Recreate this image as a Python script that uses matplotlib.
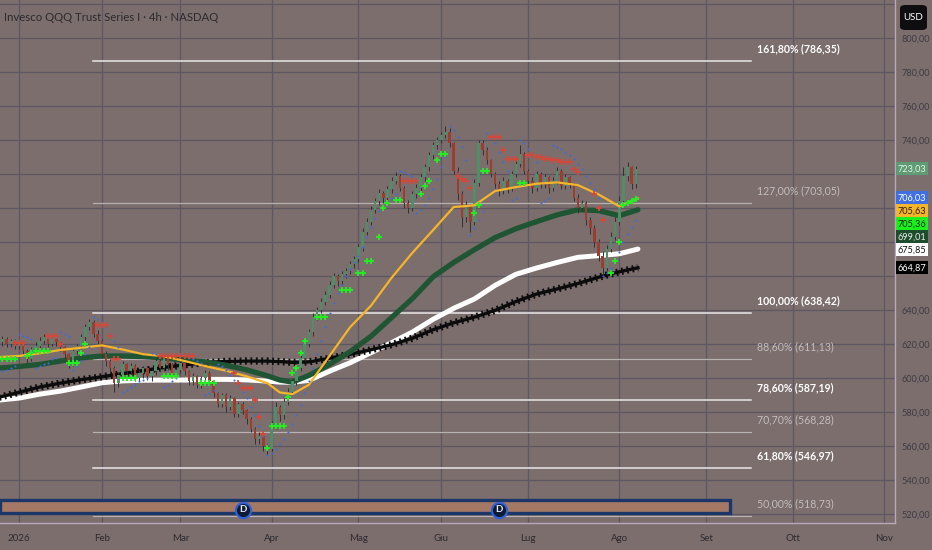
import matplotlib
matplotlib.use("Agg")
import matplotlib.pyplot as plt
from matplotlib.patches import Rectangle, FancyBboxPatch
from matplotlib.ticker import FuncFormatter, FixedLocator

plt.rcParams['font.family'] = ['Lato', 'DejaVu Sans']

title = "Invesco QQQ Trust Series I · 4h · NASDAQ"

# daily candles, x = trading day index (0 = first session of 2026)
first_day = -5
opens = [619, 621, 623, 620, 622,
         619, 620, 616, 611, 617, 619, 622, 624, 620, 623,
         621, 618, 614, 608, 616, 619, 624, 630, 633, 626,
         622, 614, 610, 606, 597, 602, 608, 604, 607, 600,
         603, 606, 601, 604, 610, 606, 611, 608, 602, 605,
         609, 604, 598, 601, 596, 600, 603, 598, 591, 585,
         590, 583, 588, 579, 585, 581, 576, 570, 564, 566,
         560, 558, 572, 583, 578, 586, 592, 598, 606, 612,
         620, 627, 636, 640, 645, 649, 655, 660, 657, 661,
         663, 667, 670, 677, 686, 692, 699, 704, 709, 706,
         711, 716, 719, 712, 703, 700, 708, 712, 718, 724,
         731, 737, 740, 743, 745, 738, 722, 708, 695, 701,
         692, 715, 738, 734, 728, 720, 714, 710, 716, 712,
         720, 726, 732, 722, 716, 712, 720, 714, 718, 712,
         716, 722, 713, 718, 714, 706, 700, 703, 693, 688,
         680, 672, 665, 676, 683, 692, 704, 719, 724, 714]
highs = [623, 625, 624, 623, 623,
         622, 621, 617, 618, 621, 624, 626, 625, 624, 624,
         622, 619, 615, 617, 620, 626, 632, 635, 634, 628,
         623, 616, 611, 607, 603, 610, 609, 609, 608, 605,
         607, 607, 605, 612, 611, 612, 612, 609, 606, 611,
         610, 605, 603, 602, 601, 605, 604, 599, 592, 591,
         591, 590, 589, 586, 586, 582, 577, 571, 568, 567,
         561, 575, 586, 584, 588, 594, 600, 608, 614, 622,
         629, 638, 642, 647, 651, 657, 662, 661, 663, 665,
         669, 672, 679, 688, 694, 701, 706, 711, 710, 713,
         718, 721, 720, 713, 705, 710, 714, 720, 726, 733,
         739, 742, 745, 748, 747, 739, 724, 710, 704, 702,
         717, 740, 740, 736, 729, 721, 716, 718, 717, 722,
         728, 737, 733, 723, 718, 722, 721, 720, 719, 718,
         724, 723, 720, 719, 715, 708, 705, 704, 695, 690,
         682, 675, 678, 686, 695, 707, 724, 727, 725, 725]
lows = [617, 619, 618, 618, 617,
        617, 614, 609, 610, 615, 617, 620, 618, 619, 619,
        616, 612, 606, 607, 614, 617, 622, 628, 624, 620,
        612, 607, 603, 592, 595, 600, 602, 602, 598, 598,
        600, 599, 598, 602, 604, 604, 605, 600, 600, 603,
        602, 596, 596, 594, 594, 598, 596, 589, 583, 583,
        580, 581, 577, 577, 579, 573, 568, 561, 561, 557,
        555, 557, 570, 575, 576, 584, 590, 596, 604, 610,
        618, 625, 634, 638, 643, 647, 653, 654, 655, 659,
        661, 665, 668, 675, 684, 690, 697, 702, 703, 704,
        709, 714, 710, 700, 697, 698, 706, 710, 716, 722,
        729, 735, 738, 741, 736, 720, 705, 689, 692, 686,
        690, 713, 731, 726, 718, 712, 707, 708, 709, 710,
        718, 724, 720, 713, 709, 710, 712, 712, 709, 710,
        714, 711, 711, 712, 704, 697, 698, 690, 685, 677,
        669, 661, 663, 674, 681, 690, 702, 716, 711, 712]
closes = [621, 623, 620, 622, 619,
          620, 616, 611, 617, 619, 622, 624, 620, 623, 621,
          618, 614, 608, 616, 619, 624, 630, 633, 626, 622,
          614, 610, 606, 597, 602, 608, 604, 607, 600, 603,
          606, 601, 604, 610, 606, 611, 608, 602, 605, 609,
          604, 598, 601, 596, 600, 603, 598, 591, 585, 590,
          583, 588, 579, 585, 581, 576, 570, 564, 566, 560,
          558, 572, 583, 578, 586, 592, 598, 606, 612, 620,
          627, 636, 640, 645, 649, 655, 660, 657, 661, 663,
          667, 670, 677, 686, 692, 699, 704, 709, 706, 711,
          716, 719, 712, 703, 700, 708, 712, 718, 724, 731,
          737, 740, 743, 745, 738, 722, 708, 695, 701, 692,
          715, 738, 734, 728, 720, 714, 710, 716, 712, 720,
          726, 732, 722, 716, 712, 720, 714, 718, 712, 716,
          722, 713, 718, 714, 706, 700, 703, 693, 688, 680,
          672, 665, 676, 683, 692, 704, 719, 724, 714, 723.03]

# parabolic-SAR style dots, one per candle
sar = [603, 604, 605, 606, 607,
       626, 625, 624, 623,
       606, 607, 608, 609, 611, 612,
       627, 626, 625,
       605, 607, 610, 614, 618,
       636, 635, 633, 630, 626, 622, 618,
       592, 593, 595, 596, 598, 599, 600,
       615, 614, 613,
       595, 596, 598, 600,
       614, 613, 612, 611, 610, 609,
       590, 591, 593,
       608, 607, 605, 602, 599, 596, 592, 588, 583, 578, 572, 566,
       555, 556, 558, 561, 564, 568, 573, 578, 584, 591, 598,
       606, 614, 622, 630, 638, 644, 650, 655, 660, 664, 668,
       672, 677, 683, 689, 694, 698, 701, 704, 706, 708,
       722, 721, 720, 719,
       697, 699, 702, 706, 711, 717, 724, 730,
       748, 746, 742, 736, 728,
       684, 688, 693, 698,
       744, 742, 738, 733, 727, 722,
       705, 706,
       740, 738, 735, 731, 727,
       703, 704, 706,
       737, 736, 735, 733, 731, 729, 726, 723, 719, 715, 711, 706,
       660, 662, 665, 669, 674, 680, 685, 689, 693]

# trailing stop crosses
stop_up_days = [-5, -4, -3, -2, -1, 2, 3, 4, 5, 6, 7, 12, 13, 14, 15, 16,
                25, 26, 27, 28, 35, 36, 37, 38, 44, 45, 46, 47, 60, 61, 62, 63, 64,
                65, 66, 67, 68, 69, 72, 73, 74, 78, 79, 80, 82, 83, 84, 85, 87,
                88, 89, 91, 92, 97, 98, 99, 101, 102, 103, 110, 111, 112, 113,
                121, 122, 143, 144, 145, 146, 147, 148, 149]
stop_up_vals = [611, 611, 611, 611, 611, 613, 615, 616, 616, 616, 616, 609, 609, 609, 615, 620,
                600, 600, 600, 600, 601, 601, 601, 601, 597, 597, 597, 597, 559, 572, 572, 572, 572,
                589, 603, 606, 615, 622, 636, 636, 636, 652, 652, 652, 662, 662, 669, 669, 683,
                700, 703, 705, 705, 708, 713, 716, 728, 732, 732, 697, 702, 722, 722,
                715, 715, 662, 669, 680, 702, 703, 704, 705.36]
stop_dn_days = [-1, 0, 1, 7, 8, 9, 10, 19, 20, 21, 22, 23, 24,
                34, 35, 36, 37, 38, 39, 40, 41, 42, 52, 53, 54, 55, 56, 57, 58, 59,
                93, 94, 95, 96, 106, 107, 108, 109, 114, 115, 116, 117, 118, 119, 120,
                123, 124, 125, 126, 127, 128, 129, 130, 131, 132, 133, 134, 135,
                139, 140, 141]
stop_dn_vals = [620.6, 620.6, 620.6, 625, 625, 625, 620, 631, 631, 631, 625, 611, 611,
                613, 613, 613, 613, 613, 613, 613, 613, 613, 603, 597, 594, 594, 594, 587, 577, 567,
                716, 716, 716, 716, 719, 717, 716, 712, 742, 742, 742, 734, 729, 729, 729,
                731, 731, 730, 730, 729, 729, 728, 728, 727, 727, 727, 723, 721,
                708, 700, 693]

# moving averages read at sample days
ma_days = [-5, 0, 5, 10, 15, 20, 25, 30, 35, 40, 45, 50, 55, 60, 63, 66, 70,
           75, 80, 85, 90, 95, 100, 105, 110, 115, 120, 125, 130, 135, 140, 145, 149.5]
ma_yellow = [612.3, 613, 614.5, 616.5, 617.8, 619.2, 616.8, 614, 612.8, 610, 607, 604.3,
             601, 597, 591.5, 590.5, 596, 613, 630, 642.5, 659, 673.6, 687, 700.6, 701.6,
             710, 712.3, 714.3, 715.1, 713.5, 708, 701, 705.63]
ma_green = [605.8, 606.8, 608, 610, 611.8, 613, 613, 612.6, 611.8, 610.5, 609.5, 607.5,
            604.8, 601.3, 598.8, 597.6, 601.5, 608, 615.5, 624.5, 635.6, 646.7, 659.5, 668,
            675.5, 682.6, 687.8, 692, 696, 699, 698.5, 695.5, 699.01]
ma_white = [587, 588.2, 590.5, 592.3, 594.7, 597.2, 598.3, 598.7, 598.8, 598.8, 599.2, 599.2,
            598.9, 598.2, 597.6, 597.5, 598.6, 604, 609, 614.9, 620.8, 627, 634.5, 641,
            646.5, 654.5, 661, 664.7, 668, 671, 672, 673.1, 675.85]
ma_black = [588.6, 591.6, 594.7, 597, 599, 600.7, 602.6, 604.4, 606.2, 607.8, 609, 609.8,
            610, 610, 609.7, 609.2, 609.5, 611.6, 614, 616.6, 619.6, 623.4, 628.4, 632.5,
            635.8, 639.8, 645, 649.4, 652.4, 655.6, 659.3, 662.5, 664.87]

month_ticks = [0, 20, 39, 61, 82, 102, 123, 145, 166, 187, 209]
month_labels = ['2026', 'Feb', 'Mar', 'Apr', 'Mag', 'Giu', 'Lug', 'Ago', 'Set', 'Ott', 'Nov']
price_ticks = list(range(520, 821, 20))

fib_ratios = ['161,80%', '127,00%', '100,00%', '88,60%', '78,60%', '70,70%', '61,80%', '50,00%']
fib_levels = [786.35, 703.05, 638.42, 611.13, 587.19, 568.28, 546.97, 518.73]
fib_major = [True, False, True, False, True, False, True, False]

range_low, range_high = 520.5, 528.5
dividend_days = [54, 116]

last_values = [723.03, 706.03, 705.63, 705.36, 699.01, 675.85, 664.87]
last_bg = ['#5f9c73', '#3f6fe0', '#f5b52a', '#1af01a', '#1e4d2e', '#ffffff', '#000000']
last_fg = ['#e8f4ea', '#ffffff', '#2a1c00', '#0a2a0a', '#e8f0e8', '#111111', '#ffffff']

BG = '#7b6e6c'
GRID = '#5e5662'
W, H = 932, 550


def fmt(v):
    return f"{v:.2f}".replace('.', ',')


days = list(range(first_day, first_day + len(closes)))
assert len(opens) == len(highs) == len(lows) == len(closes) == len(sar)
assert len(stop_up_days) == len(stop_up_vals) and len(stop_dn_days) == len(stop_dn_vals)

fig = plt.figure(figsize=(W / 100, H / 100), dpi=100, facecolor=BG)
ax = fig.add_axes([0, 27 / H, 895 / W, 523 / H])
ax.set_facecolor(BG)
ax.set_xlim(-4.6, 211.6)
ax.set_ylim(514.7, 822.4)

# stacked last-value labels on the price scale (pixel positions from bottom)
box_y = []
prev = None
for v in last_values:
    ypix = ax.transData.transform((0, v))[1]
    if prev is not None and ypix > prev - 13:
        ypix = prev - 13
    prev = ypix
    box_y.append(ypix)

# tick labels hidden behind the value boxes and the USD badge
hidden = {820}
for t in price_ticks:
    ty = ax.transData.transform((0, t))[1]
    if any(abs(ty - by) < 11 for by in box_y):
        hidden.add(t)

ax.yaxis.set_major_locator(FixedLocator(price_ticks))
ax.yaxis.set_major_formatter(FuncFormatter(lambda v, p: '' if round(v) in hidden else fmt(v)))
ax.yaxis.tick_right()
ax.tick_params(axis='y', length=0, pad=5, labelsize=6.6, labelcolor='#3e3a44')
ax.set_xticks(month_ticks)
ax.set_xticklabels(month_labels)
ax.tick_params(axis='x', length=0, pad=8, labelsize=7, labelcolor='#2e2a30')
ax.grid(True, color=GRID, lw=0.9)
ax.set_axisbelow(True)
for side in ['top', 'left']:
    ax.spines[side].set_visible(False)
for side in ['right', 'bottom']:
    ax.spines[side].set_color('#b9a9bb')
    ax.spines[side].set_linewidth(1.0)

# fibonacci levels
for ratio, lvl, major in zip(fib_ratios, fib_levels, fib_major):
    lc = '#ebe7e7' if major else '#b9b1b1'
    ax.plot([17.9, 176.8], [lvl, lvl], color=lc, lw=1.1 if major else 0.9, zorder=2)
    ax.annotate(f"{ratio} ({fmt(lvl)})", (178.3, lvl), xytext=(0, 5), textcoords='offset points',
                ha='left', va='bottom', fontsize=7.6, color='#ffffff' if major else '#c4bcbc',
                fontweight='bold' if major else 'normal', zorder=6)

# dividend range box
ax.add_patch(Rectangle((-4.6, range_low), 176.3, range_high - range_low,
                       facecolor='#a47865', edgecolor='#1c3767', lw=2.4, zorder=3))
ax.scatter(dividend_days, [522.4] * len(dividend_days), s=120, facecolor='#0f1b33',
           edgecolor='#2f62d8', lw=1.5, zorder=7)
for d in dividend_days:
    ax.text(d, 522.4, 'D', ha='center', va='center', fontsize=7, fontweight='bold',
            color='#dfe6f5', zorder=8)

# moving averages
ax.plot(ma_days, ma_white, color='#ffffff', lw=3.6, solid_capstyle='round', zorder=3)
ax.plot(ma_days, ma_black, color='#0c0c0c', lw=2.4, zorder=3)
ax.plot(ma_days, ma_black, color='#0c0c0c', lw=5.2, linestyle=(0, (0.25, 0.5)), zorder=3)
ax.plot(ma_days, ma_green, color='#1f5533', lw=3.8, solid_capstyle='round', zorder=3)

# candles
up = [c >= o for o, c in zip(opens, closes)]
ax.vlines(days, lows, highs, color='#2f3331', lw=0.7, zorder=4)
bodies = [max(abs(c - o), 0.6) for o, c in zip(opens, closes)]
bottoms = [min(o, c) for o, c in zip(opens, closes)]
ax.bar(days, bodies, bottom=bottoms, width=0.6,
       color=['#4f8e68' if u else '#9c3d31' for u in up], lw=0, zorder=4)

ax.plot(ma_days, ma_yellow, color='#f5b52a', lw=1.6, zorder=5)

# indicator overlays
ax.scatter(days, sar, s=2.2, color='#3c6ae0', lw=0, zorder=5)
ax.scatter(stop_up_days, stop_up_vals, marker='+', s=14, color='#22f022', lw=1.3, zorder=5)
ax.scatter(stop_dn_days, stop_dn_vals, marker='+', s=14, color='#d04a3c', lw=1.3, zorder=5)

ax.text(0.005, 0.967, title, transform=ax.transAxes, fontsize=8.2, color='#2c2a2e',
        ha='left', va='center')

for v, by, bg, fg in zip(last_values, box_y, last_bg, last_fg):
    fig.patches.append(Rectangle((896 / W, (by - 6.5) / H), 32 / W, 13 / H,
                                 transform=fig.transFigure, fc=bg, ec='none', zorder=5))
    fig.text(912 / W, by / H, fmt(v), ha='center', va='center', fontsize=6.6, color=fg,
             zorder=6)

fig.patches.append(FancyBboxPatch((900 / W, 1 - 30 / H), 27 / W, 25 / H,
                                  boxstyle='round,pad=0,rounding_size=0.006',
                                  transform=fig.transFigure, fc='#0e0e10', ec='none'))
fig.text(913.5 / W, 1 - 17.5 / H, 'USD', ha='center', va='center', fontsize=7,
         color='#ffffff')

fig.savefig('out.png', dpi=100, facecolor=BG)
